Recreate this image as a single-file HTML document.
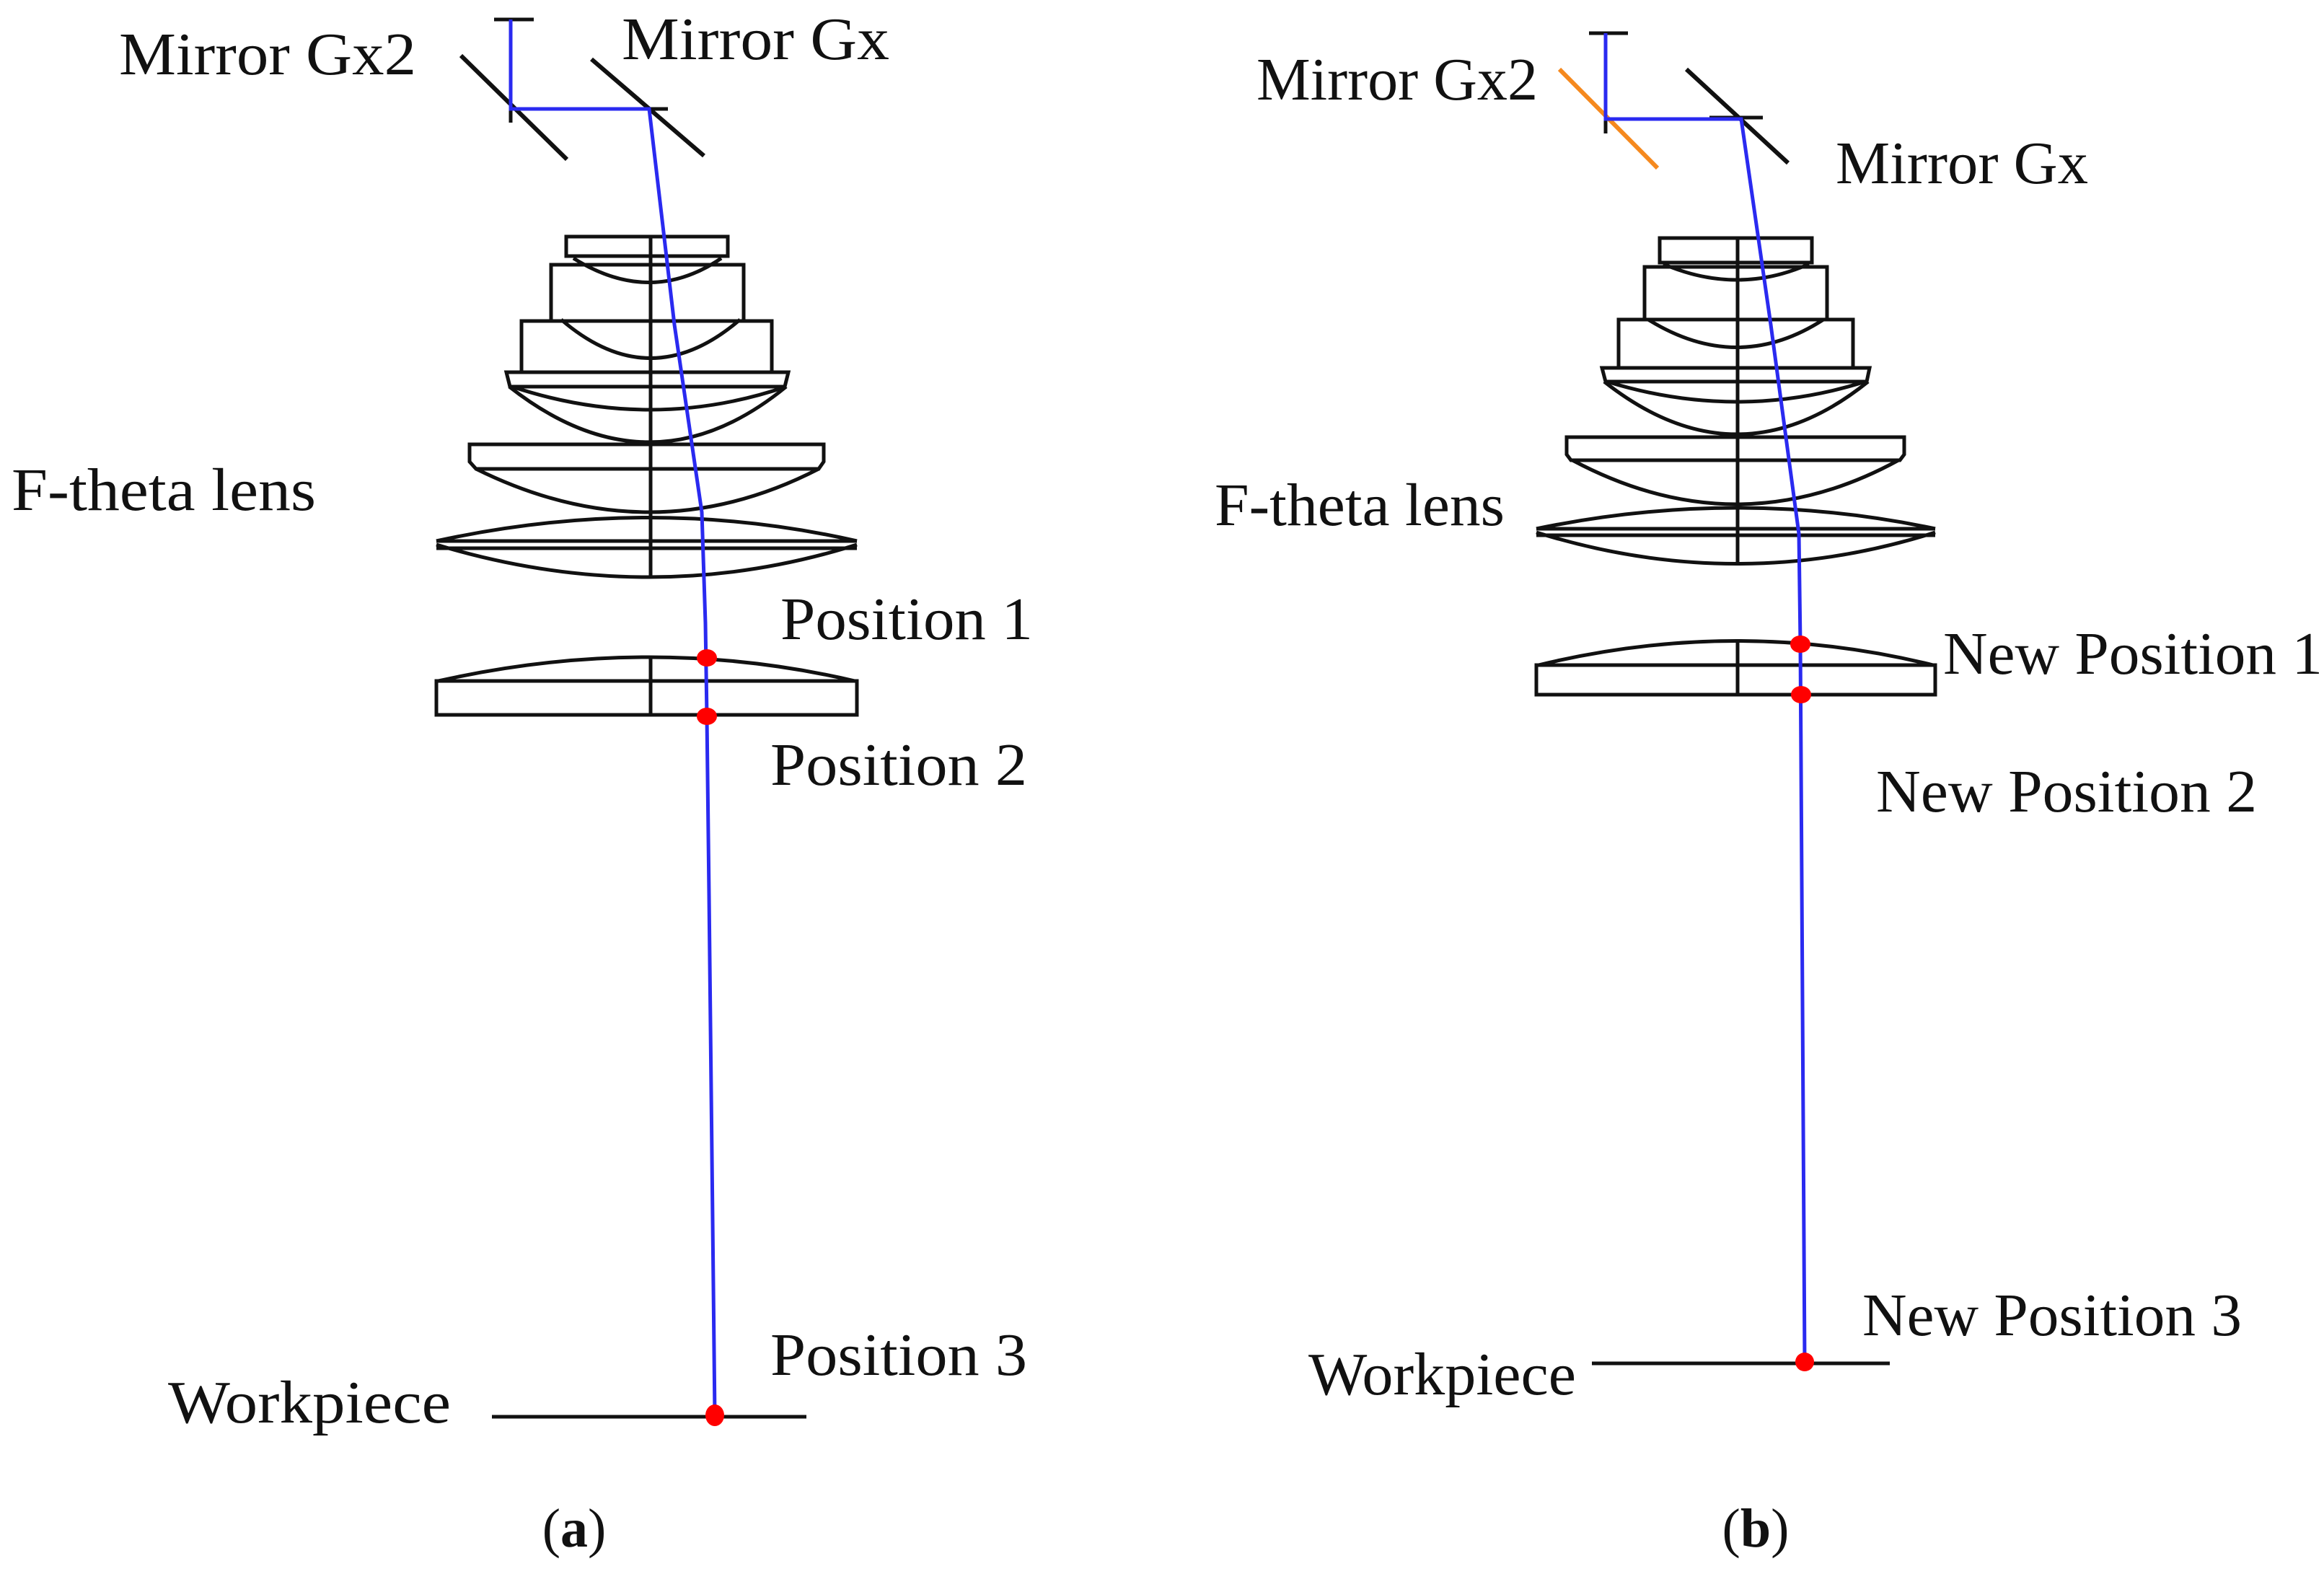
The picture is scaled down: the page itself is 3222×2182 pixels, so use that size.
<!DOCTYPE html>
<html><head><meta charset="utf-8"><style>
html,body{margin:0;padding:0;background:#fff;}
svg{display:block;}
text{font-family:"Liberation Serif",serif;fill:#111;font-size:84px;}
</style></head><body>
<svg width="3222" height="2182" viewBox="0 0 3222 2182" xmlns="http://www.w3.org/2000/svg">
<g fill="none" stroke="#111" stroke-width="5">
<!-- Panel A lens -->
<rect x="785" y="328" width="224" height="27"/>
<path d="M795 358 Q902 425 1000 358"/>
<rect x="764" y="367" width="267" height="78"/>
<path d="M778 443 Q902 550 1026 443"/>
<rect x="723" y="445" width="347" height="71"/>
<path d="M702 516 L1093 516 L1088 536 L707 536 Z"/>
<path d="M710 536 Q902 600 1090 536"/>
<path d="M706 536 Q902 690 1090 536"/>
<path d="M651 616 L1142 616 L1142 640 L1135 650 L660 650 L651 640 Z"/>
<path d="M660 650 Q902 770 1135 650"/>
<path d="M605 750 Q902 685 1188 750"/>
<line x1="605" y1="750" x2="1188" y2="750"/>
<line x1="605" y1="760" x2="1188" y2="760"/>
<path d="M605 755 Q902 845 1188 755"/>
<line x1="902" y1="328" x2="902" y2="800"/>
<path d="M608 944 Q902 878 1185 944"/>
<rect x="605" y="944" width="583" height="47"/>
<line x1="902" y1="911" x2="902" y2="991"/>
<!-- Panel A mirrors -->
<line x1="685" y1="27" x2="740" y2="27"/>
<line x1="639" y1="77" x2="786" y2="221" stroke-width="6"/>
<line x1="820" y1="82" x2="976" y2="216" stroke-width="6"/>
<line x1="880" y1="151" x2="926" y2="151"/>
<line x1="708" y1="140" x2="708" y2="170"/>
<!-- Panel A workpiece -->
<line x1="682" y1="1964" x2="1118" y2="1964"/>

<!-- Panel B lens -->
<rect x="2301" y="330" width="211" height="34"/>
<path d="M2306 366 Q2409 410 2508 366"/>
<rect x="2280" y="370" width="253" height="73"/>
<path d="M2285 443 Q2409 520 2528 443"/>
<rect x="2244" y="443" width="325" height="67"/>
<path d="M2221 510 L2592 510 L2588 529 L2226 529 Z"/>
<path d="M2228 529 Q2409 585 2586 529"/>
<path d="M2224 529 Q2409 675 2590 529"/>
<path d="M2172 606 L2640 606 L2640 630 L2634 638 L2178 638 L2172 630 Z"/>
<path d="M2180 638 Q2409 760 2632 638"/>
<path d="M2130 733 Q2409 675 2683 733"/>
<line x1="2130" y1="733" x2="2683" y2="733"/>
<line x1="2130" y1="742" x2="2683" y2="742"/>
<path d="M2130 738 Q2409 825 2683 738"/>
<line x1="2409" y1="330" x2="2409" y2="781"/>
<path d="M2133 922 Q2409 855 2680 922"/>
<rect x="2130" y="922" width="553" height="41"/>
<line x1="2409" y1="886" x2="2409" y2="963"/>
<!-- Panel B mirrors -->
<line x1="2203" y1="46" x2="2257" y2="46"/>
<line x1="2338" y1="96" x2="2479" y2="226" stroke-width="6"/>
<line x1="2370" y1="163" x2="2444" y2="163"/>
<line x1="2226" y1="143" x2="2226" y2="185"/>
<line x1="2207" y1="1890" x2="2620" y2="1890"/>
</g>
<line x1="2162" y1="96" x2="2298" y2="233" stroke="#f5891e" stroke-width="6"/>

<g fill="none" stroke="#2a2af0" stroke-width="5">
<polyline points="708,27 708,151 900,151 935,450 973,710 978,864 980,993 983,1240 991,1962"/>
<polyline points="2226,46 2226,165 2414,165 2455,450 2494,740 2496,893 2502,1888"/>
</g>
<g fill="#f00">
<ellipse cx="980" cy="912" rx="14" ry="12"/>
<ellipse cx="980" cy="993" rx="14" ry="12"/>
<ellipse cx="991" cy="1962" rx="13" ry="15"/>
<ellipse cx="2496" cy="893" rx="14" ry="12"/>
<ellipse cx="2497" cy="963" rx="14" ry="12"/>
<ellipse cx="2502" cy="1888" rx="13" ry="13"/>
</g>

<text x="165" y="103" textLength="412" lengthAdjust="spacingAndGlyphs">Mirror Gx2</text>
<text x="862" y="82" textLength="371" lengthAdjust="spacingAndGlyphs">Mirror Gx</text>
<text x="16" y="707" textLength="422" lengthAdjust="spacingAndGlyphs">F-theta lens</text>
<text x="1082" y="886" textLength="350" lengthAdjust="spacingAndGlyphs">Position 1</text>
<text x="1068" y="1088" textLength="356" lengthAdjust="spacingAndGlyphs">Position 2</text>
<text x="1068" y="1906" textLength="356" lengthAdjust="spacingAndGlyphs">Position 3</text>
<text x="233" y="1972" textLength="392" lengthAdjust="spacingAndGlyphs">Workpiece</text>
<text x="796" y="2144" text-anchor="middle" style="font-size:76px">(<tspan font-weight="bold">a</tspan>)</text>

<text x="1742" y="138" textLength="390" lengthAdjust="spacingAndGlyphs">Mirror Gx2</text>
<text x="2545" y="254" textLength="350" lengthAdjust="spacingAndGlyphs">Mirror Gx</text>
<text x="1684" y="728" textLength="402" lengthAdjust="spacingAndGlyphs">F-theta lens</text>
<text x="2694" y="934" textLength="526" lengthAdjust="spacingAndGlyphs">New Position 1</text>
<text x="2601" y="1125" textLength="528" lengthAdjust="spacingAndGlyphs">New Position 2</text>
<text x="2582" y="1851" textLength="526" lengthAdjust="spacingAndGlyphs">New Position 3</text>
<text x="1814" y="1933" textLength="371" lengthAdjust="spacingAndGlyphs">Workpiece</text>
<text x="2434" y="2144" text-anchor="middle" style="font-size:76px">(<tspan font-weight="bold">b</tspan>)</text>
</svg>
</body></html>
